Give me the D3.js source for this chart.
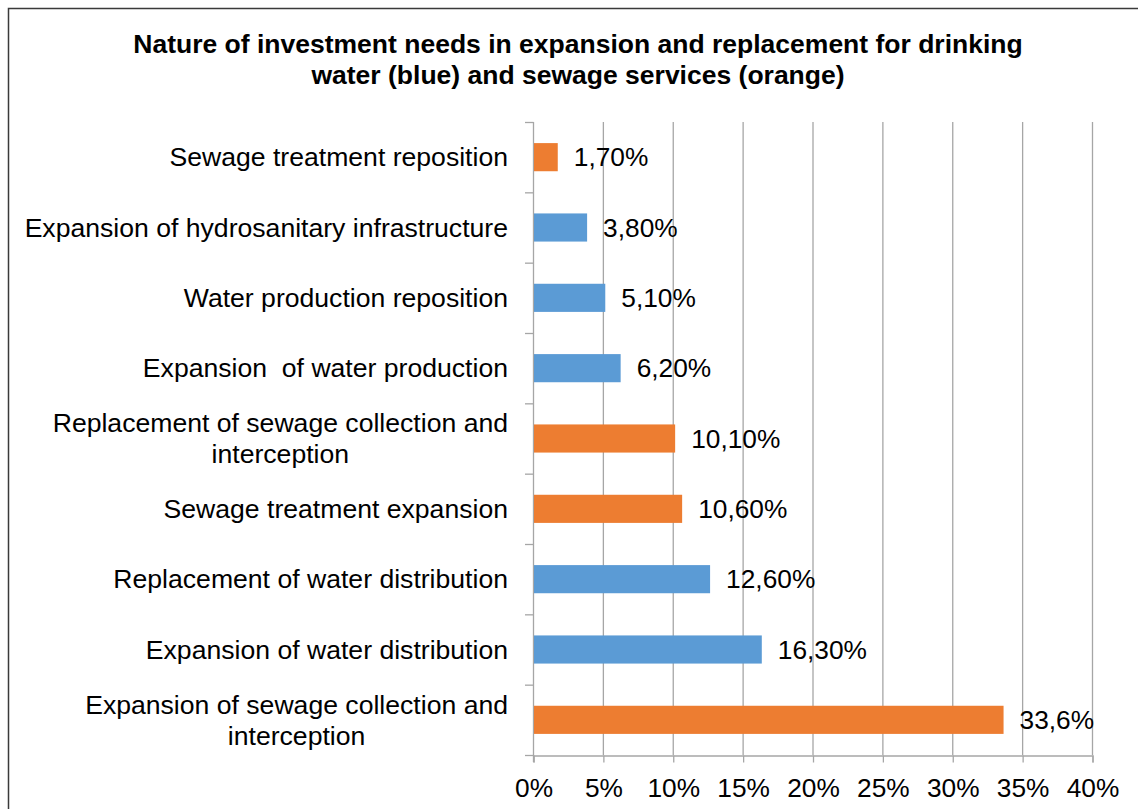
<!DOCTYPE html>
<html>
<head>
<meta charset="utf-8">
<script src="https://cdn.jsdelivr.net/npm/d3@7"></script>
<style>
  html, body { margin: 0; padding: 0; background: #fff; }
  svg { display: block; font-family: "Liberation Sans", Arial, sans-serif; }
</style>
</head>
<body>
<svg id="chart" width="1138" height="809"></svg>
<script>
// Investment needs, listed top to bottom
const categories = [
  ["Sewage treatment reposition"],
  ["Expansion of hydrosanitary infrastructure"],
  ["Water production reposition"],
  ["Expansion  of water production"],
  ["Replacement of sewage collection and", "interception"],
  ["Sewage treatment expansion"],
  ["Replacement of water distribution"],
  ["Expansion of water distribution"],
  ["Expansion of sewage collection and", "interception"]
];
const values = [1.7, 3.8, 5.1, 6.2, 10.1, 10.6, 12.6, 16.3, 33.6];
const valueLabels = ["1,70%", "3,80%", "5,10%", "6,20%", "10,10%", "10,60%", "12,60%", "16,30%", "33,6%"];
const service = ["sewage", "water", "water", "water", "sewage", "sewage", "water", "water", "sewage"];
const xTicks = [0, 5, 10, 15, 20, 25, 30, 35, 40];
const titleLines = [
  "Nature of investment needs in expansion and replacement for drinking",
  "water (blue) and sewage services (orange)"
];

const colors = { water: "#5B9BD5", sewage: "#ED7D31" };
const gridColor = "#A6A6A6";
const fontSize = 26.3;
const labelFontSize = 26.6;

const svg = d3.select("#chart");
const plot = { left: 533, right: 1092, top: 122, bottom: 755 };

// outer frame
svg.append("rect")
  .attr("x", 8.5).attr("y", 8.5)
  .attr("width", 1200).attr("height", 900)
  .attr("fill", "none").attr("stroke", "#3a3a3a").attr("stroke-width", 1.5);

// title
svg.append("g").selectAll("text")
  .data(titleLines).join("text")
  .attr("x", 578).attr("y", (d, i) => 53 + i * 31)
  .attr("text-anchor", "middle")
  .attr("font-size", 26.5).attr("font-weight", "bold").attr("fill", "#000")
  .text(d => d);

const x = d3.scaleLinear().domain([0, 40]).range([plot.left, plot.right]);
const idx = d3.range(categories.length);
const y = d3.scaleBand().domain(idx).range([plot.top, plot.bottom]).paddingInner(0.6).paddingOuter(0.3);
const yb = d3.scaleBand().domain(idx).range([plot.top, plot.bottom]);

// vertical gridlines
svg.append("g").selectAll("line")
  .data(xTicks.slice(1)).join("line")
  .attr("x1", d => x(d) + 0.5).attr("x2", d => x(d) + 0.5)
  .attr("y1", plot.top).attr("y2", plot.bottom)
  .attr("stroke", gridColor).attr("stroke-width", 1.3);

// x axis
const xAxis = d3.axisBottom(x).tickValues(xTicks).tickFormat(d => d + "%").tickSize(7).tickPadding(16);
const gx = svg.append("g").attr("transform", `translate(0.5,${plot.bottom + 0.5})`).call(xAxis);
gx.select(".domain").attr("stroke", gridColor).attr("stroke-width", 1.3);
gx.selectAll(".tick line").attr("stroke", gridColor).attr("stroke-width", 1.3);
gx.selectAll(".tick text").attr("font-size", fontSize).attr("fill", "#000")
  .attr("font-family", "Liberation Sans, Arial, sans-serif");

// y axis line with ticks at category boundaries
const gy = svg.append("g");
gy.append("line")
  .attr("x1", plot.left + 0.5).attr("x2", plot.left + 0.5)
  .attr("y1", plot.top).attr("y2", plot.bottom + 7)
  .attr("stroke", gridColor).attr("stroke-width", 1.3);
gy.selectAll("line.tk")
  .data(d3.range(categories.length + 1)).join("line").attr("class", "tk")
  .attr("x1", plot.left - 8).attr("x2", plot.left + 0.5)
  .attr("y1", d => plot.top + d * yb.step() + 0.5).attr("y2", d => plot.top + d * yb.step() + 0.5)
  .attr("stroke", gridColor).attr("stroke-width", 1.3);

// bars
svg.append("g").selectAll("rect")
  .data(idx).join("rect")
  .attr("x", x(0) + 1)
  .attr("y", i => y(i))
  .attr("width", i => x(values[i]) - x(0))
  .attr("height", y.bandwidth())
  .attr("fill", i => colors[service[i]]);

// value labels
svg.append("g").selectAll("text")
  .data(idx).join("text")
  .attr("x", i => x(values[i]) + 17)
  .attr("y", i => yb(i) + yb.bandwidth() / 2)
  .attr("dy", "0.35em")
  .attr("font-size", fontSize).attr("fill", "#000")
  .text(i => valueLabels[i]);

// category labels: a right-aligned block whose lines are centred on each other
const labelRight = 508;
const labels = svg.append("g").attr("font-size", labelFontSize).attr("fill", "#000");
idx.forEach(i => {
  const lines = categories[i];
  const cy = yb(i) + yb.bandwidth() / 2;
  const lh = 31;
  const g = labels.append("g");
  const texts = g.selectAll("text").data(lines).join("text")
    .attr("xml:space", "preserve")
    .style("white-space", "pre")
    .attr("y", (d, k) => cy + (k - (lines.length - 1) / 2) * lh)
    .attr("dy", "0.35em")
    .text(d => d);
  const widths = texts.nodes().map(n => n.getComputedTextLength());
  const maxW = d3.max(widths);
  texts.attr("x", labelRight - maxW / 2).attr("text-anchor", "middle");
});
</script>
</body>
</html>
